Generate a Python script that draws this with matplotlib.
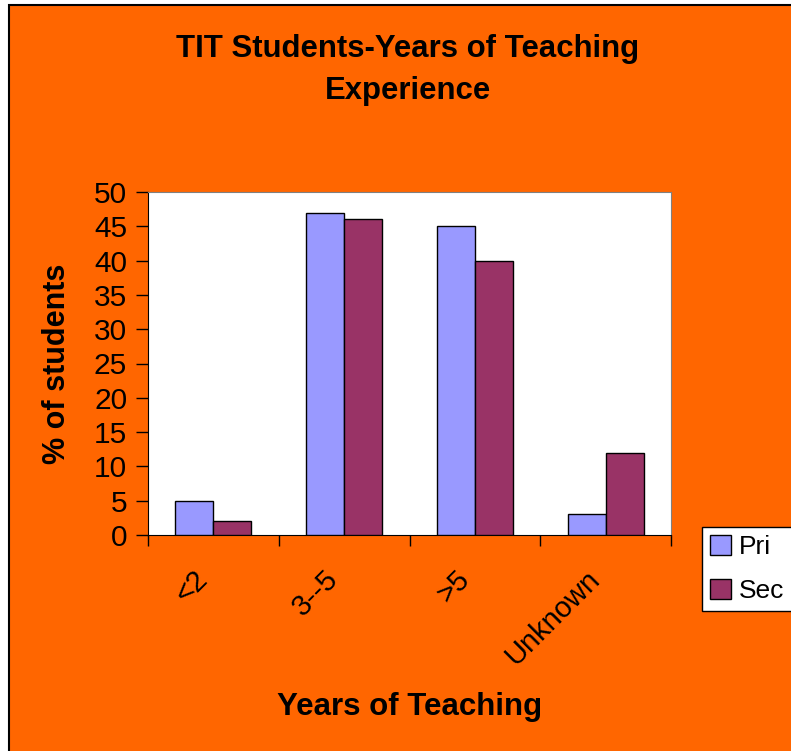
import matplotlib.pyplot as plt
import numpy as np
from matplotlib.patches import Rectangle

plt.rcParams['font.family'] = ['Liberation Sans', 'DejaVu Sans']

categories = ['<2', '3--5', '>5', 'Unknown']
pri = [5, 47, 45, 3]
sec = [2, 46, 40, 12]

orange = '#FF6600'
pri_color = '#9999FF'
sec_color = '#993366'

fig = plt.figure(figsize=(7.91, 7.51), dpi=100)
fig.patch.set_facecolor('white')

# chart area frame (cut off at right and bottom like the screenshot)
W, H = 791, 751
frame = Rectangle((9 / W, -0.05), 1.1, 1 - 5 / H + 0.05, transform=fig.transFigure,
                  facecolor=orange, edgecolor='black', linewidth=1.5, zorder=-5)
fig.patches.append(frame)

ax = fig.add_axes([148 / W, 1 - 535 / H, (671 - 148) / W, (535 - 192) / H])
ax.set_facecolor('white')

x = np.arange(len(categories))
w = 0.29
ax.bar(x - w / 2, pri, w, color=pri_color, edgecolor='black', linewidth=1, label='Pri', zorder=3)
ax.bar(x + w / 2, sec, w, color=sec_color, edgecolor='black', linewidth=1, label='Sec', zorder=3)

ax.set_xlim(-0.5, 3.5)
ax.set_ylim(0, 50)
ax.set_yticks(range(0, 51, 5))
ax.tick_params(axis='y', labelsize=21.5, length=9, width=1, direction='out', pad=6)

ax.set_xticks(x)
ax.set_xticklabels(categories, fontsize=21, rotation=45, ha='right', va='bottom',
                   rotation_mode='anchor')
ax.tick_params(axis='x', length=0, pad=36)
# category boundary ticks
ax.set_xticks(np.arange(-0.5, 4, 1), minor=True)
ax.tick_params(axis='x', which='minor', length=8, width=1, direction='out')

ax.spines['top'].set_color('#808080')
ax.spines['right'].set_color('#808080')
ax.spines['left'].set_color('black')
ax.spines['bottom'].set_color('black')

ax.set_ylabel('% of students', fontsize=22, fontweight='bold')
ax.set_xlabel('Years of Teaching', fontsize=22.5, fontweight='bold')
ax.xaxis.set_label_coords(0.5, -0.458)
ax.yaxis.set_label_coords(-0.145, 0.5)

fig.text(408 / W, 1 - 70 / H, 'TIT Students-Years of Teaching\nExperience', fontsize=22.4,
         fontweight='bold', ha='center', va='center', linespacing=1.5)

leg = fig.legend(loc='upper left', bbox_to_anchor=(702 / W, 1 - 527 / H), fontsize=19,
                 frameon=True, fancybox=False, edgecolor='black', facecolor='white',
                 framealpha=1, handlelength=0.8, handleheight=0.8, handletextpad=0.3,
                 borderpad=0.3, labelspacing=0.75, borderaxespad=0)
leg.get_frame().set_linewidth(1)

fig.savefig('out.png', dpi=100, facecolor=fig.get_facecolor())
